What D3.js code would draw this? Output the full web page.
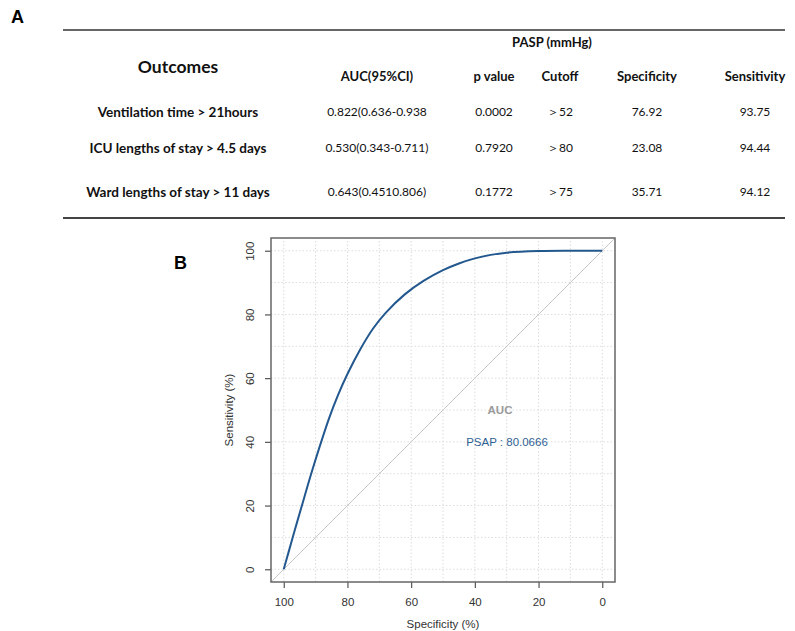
<!DOCTYPE html>
<html>
<head>
<meta charset="utf-8">
<script src="https://cdn.jsdelivr.net/npm/d3@7"></script>
<style>
	body { margin: 0; background: #fff; }
	svg { display: block; }
</style>
</head>
<body>
<script>
// Table A: values
const outcomes = ["Ventilation time > 21hours", "ICU lengths of stay > 4.5 days", "Ward lengths of stay > 11 days"];
const aucCI = ["0.822(0.636-0.938", "0.530(0.343-0.711)", "0.643(0.4510.806)"];
const pValues = ["0.0002", "0.7920", "0.1772"];
const cutoffs = ["＞52", "＞80", "＞75"];
const specificity = ["76.92", "23.08", "35.71"];
const sensitivity = ["93.75", "94.44", "94.12"];
const columns = ["AUC(95%CI)", "p value", "Cutoff", "Specificity", "Sensitivity"];

// Panel B: ROC curve
const rocSpec = [100, 98.5, 96.5, 94.5, 91.5, 88.5, 85.8, 83, 80, 76, 72, 68, 62, 56, 50, 45, 40, 35, 30, 20, 10, 0];
const rocSens = [0, 5.3, 12.4, 19.3, 29.6, 39.2, 47.3, 54.6, 61.3, 69, 75.5, 80.5, 86.3, 90.6, 93.9, 96, 97.6, 98.7, 99.4, 99.9, 100, 100];
const ticks = [0, 20, 40, 60, 80, 100];
const aucLabel = "PSAP : 80.0666";

const width = 795, height = 631;
const svg = d3.select("body").append("svg")
	.attr("width", width)
	.attr("height", height);

const tableFont = "Lato, 'Open Sans', sans-serif";
const plotFont = "'Liberation Sans', Arial, sans-serif";

// panel letters
svg.append("text").attr("x", 11).attr("y", 23)
	.attr("font-family", plotFont).attr("font-weight", "bold").attr("font-size", 18)
	.text("A");
svg.append("text").attr("x", 174).attr("y", 269)
	.attr("font-family", plotFont).attr("font-weight", "bold").attr("font-size", 18)
	.text("B");

// ---- table ----
const table = svg.append("g").attr("font-family", tableFont).attr("fill", "#111");

table.append("line").attr("x1", 63).attr("x2", 785).attr("y1", 30).attr("y2", 30)
	.attr("stroke", "#333").attr("stroke-width", 1.6);
table.append("line").attr("x1", 63).attr("x2", 785).attr("y1", 218).attr("y2", 218)
	.attr("stroke", "#444").attr("stroke-width", 2);

table.append("text").attr("x", 552).attr("y", 42).attr("dy", "0.35em")
	.attr("text-anchor", "middle").attr("font-weight", "bold").attr("font-size", 13)
	.text("PASP (mmHg)");
table.append("text").attr("x", 178).attr("y", 67).attr("dy", "0.35em")
	.attr("text-anchor", "middle").attr("font-weight", "bold").attr("font-size", 17.5)
	.text("Outcomes");

const colX = [377, 494, 560, 647, 755];
table.selectAll(".hdr").data(columns).join("text")
	.attr("class", "hdr")
	.attr("x", (d, i) => colX[i])
	.attr("y", 76)
	.attr("dy", "0.35em")
	.attr("text-anchor", "middle")
	.attr("font-weight", "bold")
	.attr("font-size", 13)
	.text(d => d);

const rowY = [112, 148, 192];
const rows = outcomes.map((o, i) => [o, aucCI[i], pValues[i], cutoffs[i], specificity[i], sensitivity[i]]);
const rowX = [178].concat(colX);

const rowG = table.selectAll(".row").data(rows).join("g")
	.attr("class", "row")
	.attr("transform", (d, i) => `translate(0,${rowY[i]})`);
rowG.selectAll("text").data(d => d).join("text")
	.attr("x", (d, i) => rowX[i])
	.attr("dy", "0.35em")
	.attr("text-anchor", "middle")
	.attr("font-weight", (d, i) => i === 0 ? "bold" : "normal")
	.attr("font-size", (d, i) => i === 0 ? 13.5 : 12)
	.text(d => d);

// ---- ROC plot ----
const x = d3.scaleLinear().domain([104, -4]).range([271, 615]);
const y = d3.scaleLinear().domain([-4, 104]).range([582, 238]);

const plot = svg.append("g");

// grid
const grid = d3.range(0, 101, 10);
plot.append("g")
	.attr("stroke", "#dcdcdc").attr("stroke-width", 1).attr("stroke-dasharray", "1.5,2")
	.call(g => g.selectAll(".gx").data(grid).join("line")
		.attr("class", "gx")
		.attr("x1", d => x(d)).attr("x2", d => x(d))
		.attr("y1", y(-4)).attr("y2", y(104)))
	.call(g => g.selectAll(".gy").data(grid).join("line")
		.attr("class", "gy")
		.attr("y1", d => y(d)).attr("y2", d => y(d))
		.attr("x1", x(104)).attr("x2", x(-4)));

// diagonal
plot.append("line")
	.attr("x1", x(104)).attr("y1", y(-4))
	.attr("x2", x(-4)).attr("y2", y(104))
	.attr("stroke", "#c8c8c8").attr("stroke-width", 1);

// curve
const line = d3.line()
	.x(i => x(rocSpec[i]))
	.y(i => y(rocSens[i]))
	.curve(d3.curveCatmullRom.alpha(0.5));
plot.append("path")
	.attr("d", line(d3.range(rocSpec.length)))
	.attr("fill", "none")
	.attr("stroke", "#23588f")
	.attr("stroke-width", 2);

// axes
const xAxis = plot.append("g")
	.attr("transform", `translate(0,${y(-4)})`)
	.call(d3.axisBottom(x).tickValues(ticks).tickSize(6).tickPadding(10));
const yAxis = plot.append("g")
	.attr("transform", `translate(${x(104)},0)`)
	.call(d3.axisLeft(y).tickValues(ticks).tickSize(6));

[xAxis, yAxis].forEach(a => {
	a.select(".domain").remove();
	a.selectAll(".tick line").attr("stroke", "#555").attr("stroke-width", 1.2);
	a.selectAll(".tick text").attr("fill", "#333").attr("font-family", plotFont).attr("font-size", 11.5);
});
yAxis.selectAll(".tick text")
	.attr("x", 0).attr("dy", "0.35em")
	.attr("text-anchor", "middle")
	.attr("transform", "translate(-21,0) rotate(-90)");

// box
plot.append("rect")
	.attr("x", x(104)).attr("y", y(104))
	.attr("width", x(-4) - x(104)).attr("height", y(-4) - y(104))
	.attr("fill", "none").attr("stroke", "#666").attr("stroke-width", 1.5);

// axis titles
plot.append("text")
	.attr("x", (x(104) + x(-4)) / 2).attr("y", 624).attr("dy", "0.35em")
	.attr("text-anchor", "middle").attr("fill", "#333")
	.attr("font-family", plotFont).attr("font-size", 11.5)
	.text("Specificity (%)");
plot.append("text")
	.attr("transform", `translate(229,${(y(104) + y(-4)) / 2}) rotate(-90)`)
	.attr("dy", "0.35em")
	.attr("text-anchor", "middle").attr("fill", "#333")
	.attr("font-family", plotFont).attr("font-size", 11.5)
	.text("Sensitivity (%)");

// AUC annotation
plot.append("text")
	.attr("x", 500).attr("y", 410).attr("dy", "0.35em")
	.attr("text-anchor", "middle").attr("fill", "#9a9a9a").attr("font-weight", "bold")
	.attr("font-family", plotFont).attr("font-size", 11.5)
	.text("AUC");
plot.append("text")
	.attr("x", 507).attr("y", 442).attr("dy", "0.35em")
	.attr("text-anchor", "middle").attr("fill", "#2f6193")
	.attr("font-family", plotFont).attr("font-size", 11.5)
	.text(aucLabel);
</script>
</body>
</html>
